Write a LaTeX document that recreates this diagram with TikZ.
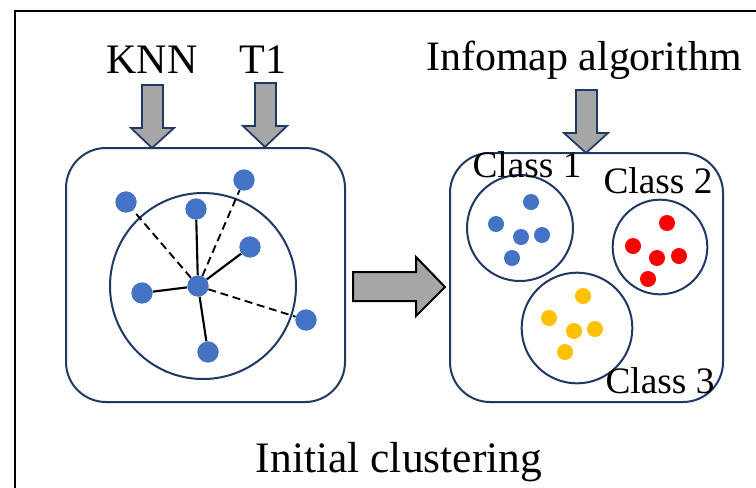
\documentclass[tikz,border=0pt]{standalone}
\usepackage{fontspec}
\setmainfont{Liberation Serif}
\definecolor{navy}{HTML}{1F3864}
\definecolor{dotblue}{HTML}{4472C4}
\definecolor{dotred}{HTML}{FF0000}
\definecolor{dotyellow}{HTML}{FFC000}
\definecolor{arrgray}{HTML}{A6A6A6}
\tikzset{
  panel/.style={draw=navy, line width=1.5pt, rounded corners=30pt},
  ring/.style={draw=navy, line width=1.5pt},
  bigdot/.style={circle, fill=dotblue, inner sep=0pt, minimum size=16pt},
  smalldot/.style={circle, inner sep=0pt, minimum size=12pt},
  solidedge/.style={line width=1.6pt, black},
  dashedge/.style={line width=1.4pt, black, dash pattern=on 6pt off 3.5pt},
  blockarrow/.style={fill=arrgray, draw=navy, line width=1.3pt, line join=miter},
  label/.style={anchor=base, inner sep=0pt, text=black},
}
\begin{document}
\begin{tikzpicture}[x=0.75pt, y=-0.75pt]
\useasboundingbox (0,0) rectangle (756,487);
% outer frame (continues beyond picture)
\begin{scope}
\clip (0,0) rectangle (756,487);
\draw[line width=1.9pt, black] (15,11) rectangle (820,560);
\end{scope}

% texts
\node[label, font=\fontsize{31.5pt}{36pt}\selectfont] (knn) at (152,73) {KNN};
\node[label, font=\fontsize{31.5pt}{36pt}\selectfont] (t1) at (263,73) {T1};
\node[label, font=\fontsize{31.4pt}{36pt}\selectfont] (info) at (584,70) {Infomap algorithm};
\node[label, font=\fontsize{32.6pt}{38pt}\selectfont] (init) at (399,472) {Initial clustering};

% down arrows
\draw[blockarrow] (142,85) -- (163,85) -- (163,128) -- (174,128) -- (152,148) -- (131,128) -- (142,128) -- cycle;
\draw[blockarrow] (255,83) -- (276,83) -- (276,126) -- (287,126) -- (265,147) -- (243,126) -- (255,126) -- cycle;
\draw[blockarrow] (576,90) -- (597,90) -- (597,133) -- (608,133) -- (586,153) -- (564,133) -- (576,133) -- cycle;

% left panel
\draw[panel] (66,148) rectangle (345,402);
\node[ring, circle, inner sep=0pt, minimum size=139.5pt] (big) at (203,286) {};
\node[bigdot] (c) at (198,286) {};
\node[bigdot] (a) at (126,202) {};
\node[bigdot] (b) at (196,209) {};
\node[bigdot] (cc) at (244,180) {};
\node[bigdot] (d) at (250,247) {};
\node[bigdot] (e) at (142,293) {};
\node[bigdot] (f) at (306,320) {};
\node[bigdot] (g) at (208,352) {};
\draw[dashedge] (c) -- (a);
\draw[dashedge] (c) -- (cc);
\draw[dashedge] (c) -- (f);
\draw[solidedge] (c) -- (b);
\draw[solidedge] (c) -- (d);
\draw[solidedge] (c) -- (e);
\draw[solidedge] (c) -- (g);

% right arrow between panels
\draw[fill=arrgray, draw=black, line width=1.5pt, line join=miter]
  (353,272) -- (416,272) -- (416,257) -- (445,287) -- (416,316) -- (416,301) -- (353,301) -- cycle;

% right panel
\draw[panel] (450,153) rectangle (723,402);
\node[ring, circle, inner sep=0pt, minimum size=79.5pt] (k1) at (520,228) {};
\node[ring, circle, inner sep=0pt, minimum size=71pt] (k2) at (660,247) {};
\node[ring, circle, inner sep=0pt, minimum size=83pt] (k3) at (577,328) {};

\node[smalldot, fill=dotblue] (b1) at (531,202) {};
\node[smalldot, fill=dotblue] (b2) at (496,224) {};
\node[smalldot, fill=dotblue] (b3) at (521,237) {};
\node[smalldot, fill=dotblue] (b4) at (542,235) {};
\node[smalldot, fill=dotblue] (b5) at (512,258) {};

\node[smalldot, fill=dotred] (r1) at (667,223) {};
\node[smalldot, fill=dotred] (r2) at (633,246) {};
\node[smalldot, fill=dotred] (r3) at (657,258) {};
\node[smalldot, fill=dotred] (r4) at (679,256) {};
\node[smalldot, fill=dotred] (r5) at (648,279) {};

\node[smalldot, fill=dotyellow] (y1) at (583,296) {};
\node[smalldot, fill=dotyellow] (y2) at (549,318) {};
\node[smalldot, fill=dotyellow] (y3) at (574,331) {};
\node[smalldot, fill=dotyellow] (y4) at (595,329) {};
\node[smalldot, fill=dotyellow] (y5) at (565,352) {};

\node[label, font=\fontsize{28pt}{32pt}\selectfont] (cl1) at (527,177) {Class 1};
\node[label, font=\fontsize{28pt}{32pt}\selectfont] (cl2) at (658,193) {Class 2};
\node[label, font=\fontsize{28pt}{32pt}\selectfont] (cl3) at (660,393) {Class 3};
\end{tikzpicture}
\end{document}
